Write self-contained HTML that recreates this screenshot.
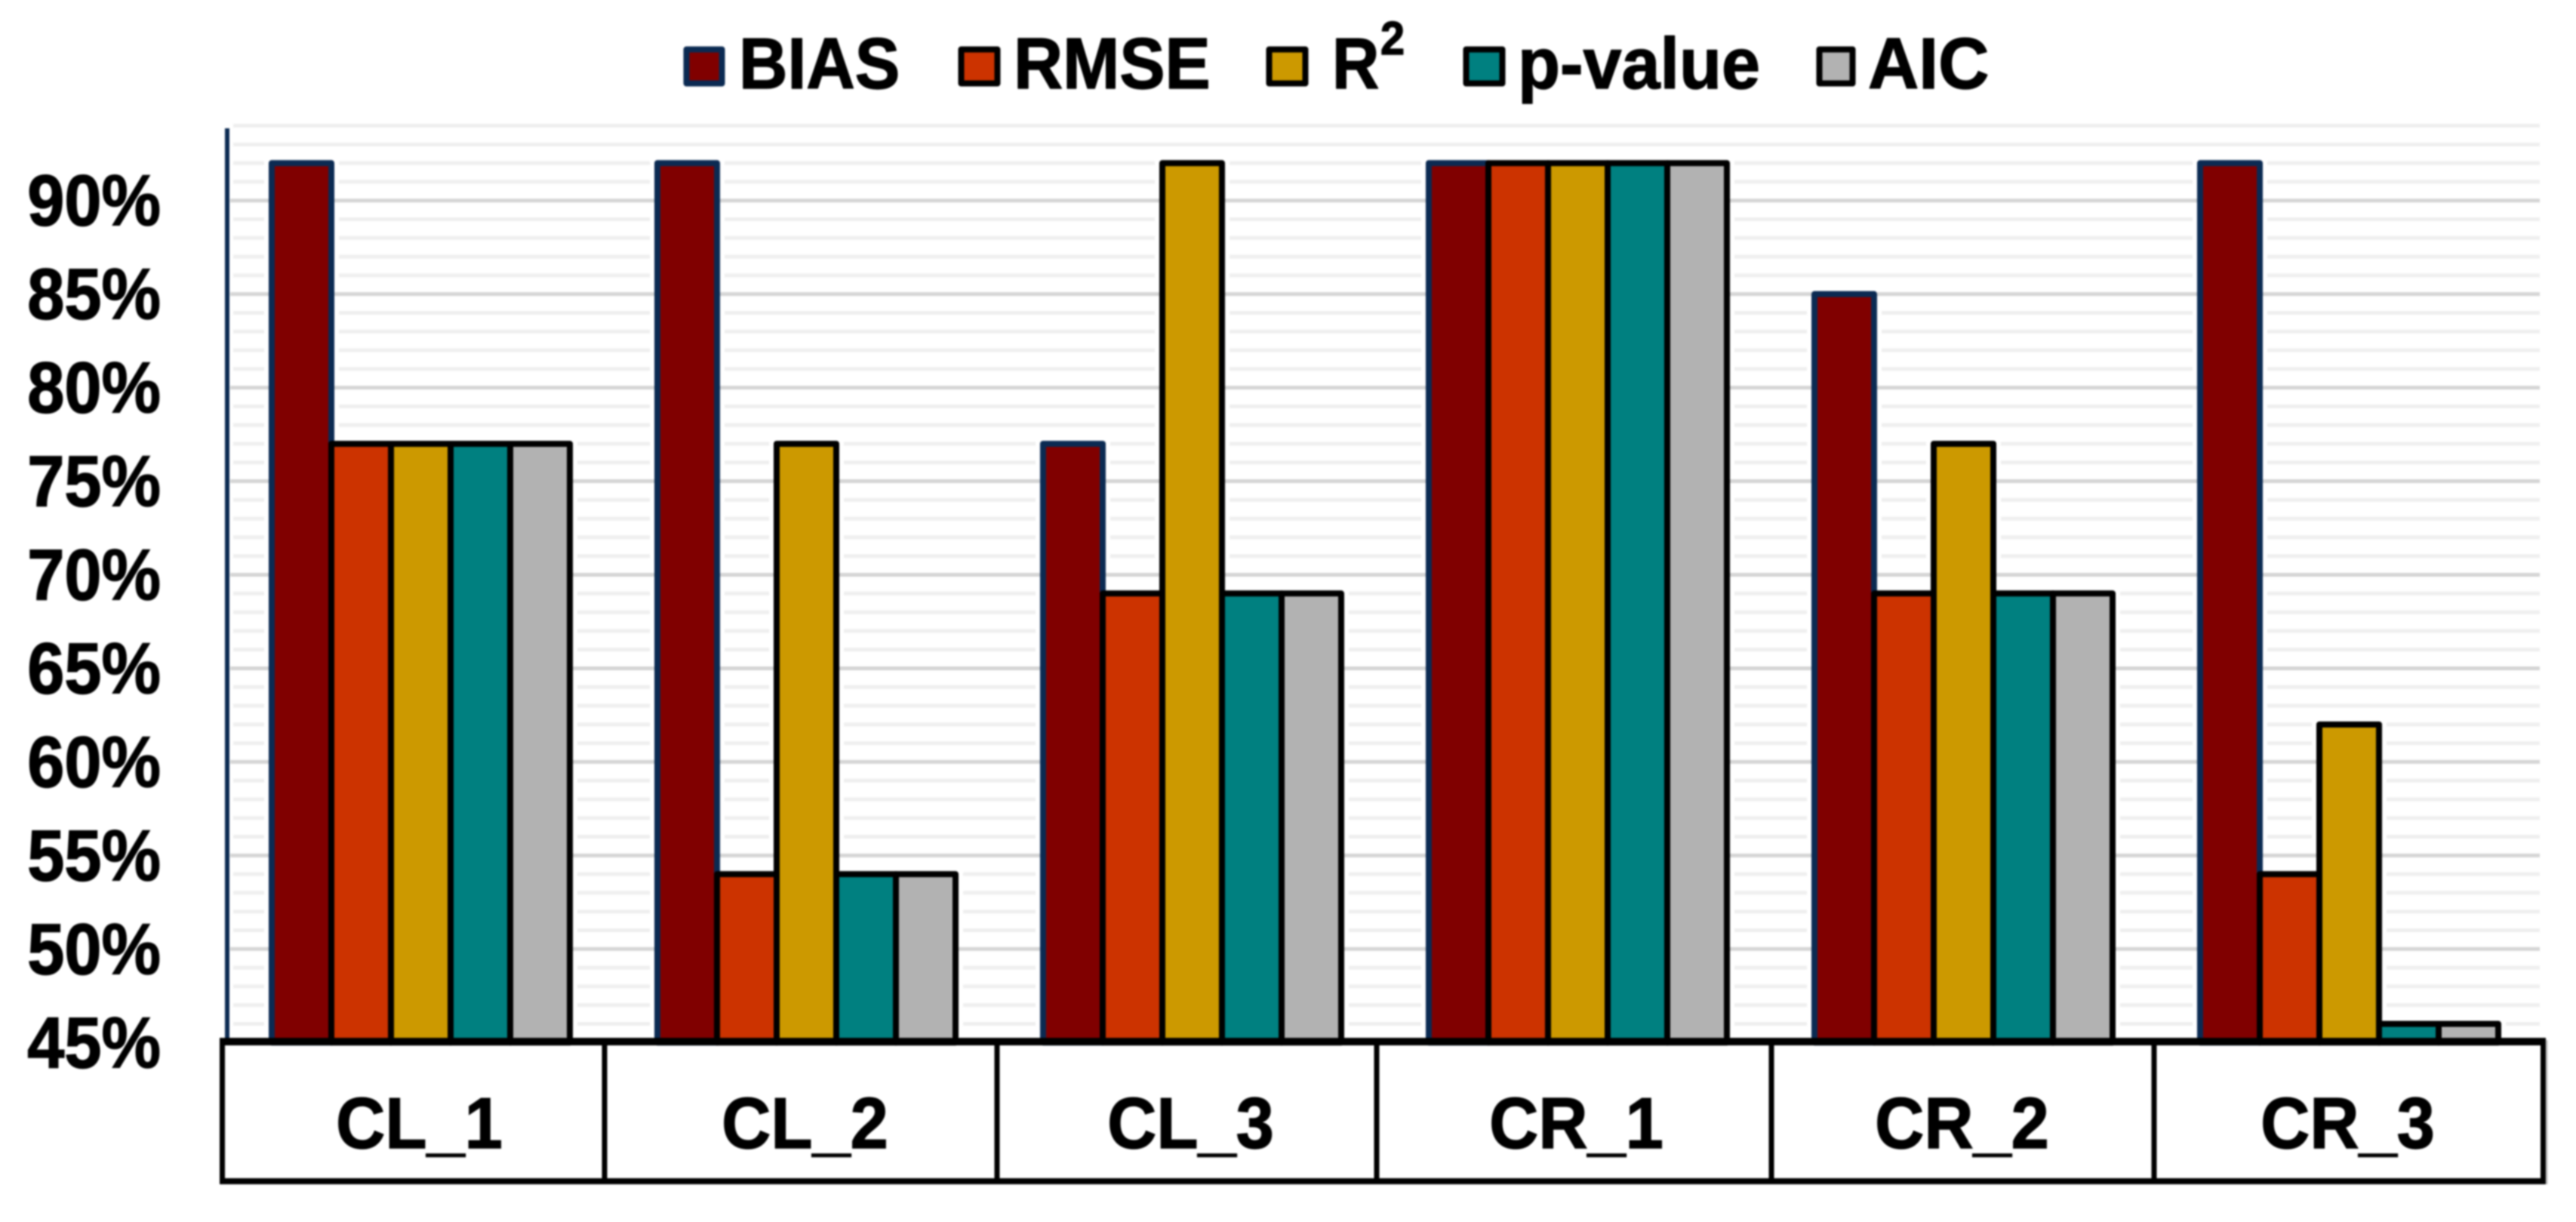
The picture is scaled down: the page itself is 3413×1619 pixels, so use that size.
<!DOCTYPE html>
<html lang="en">
<head>
<meta charset="utf-8">
<title>Model metrics by category</title>
<style>
html,body{margin:0;padding:0;background:#fff;width:3413px;height:1619px;overflow:hidden}
svg{display:block;filter:blur(1px)}
text{font-family:"Liberation Sans",Arial,sans-serif;font-weight:700;fill:#000;stroke:#000;stroke-width:1.5px}
</style>
</head>
<body>
<svg id="chart" xmlns="http://www.w3.org/2000/svg" width="3413" height="1619" viewBox="0 0 3413 1619">
  <rect x="0" y="0" width="3413" height="1619" fill="#fff"/>
  <g id="grid-minor"></g>
  <g id="halos"></g>
  <g id="grid-major"></g>
  <g id="bars"></g>
  <line x1="301" y1="170" x2="301" y2="1380" stroke="#0b2a52" stroke-width="6"/>
  <g id="ylabels"></g>

  <g fill="none" stroke="#000">
    <line x1="3374.5" y1="1378" x2="3374.5" y2="1569" stroke="#bdbdbd" stroke-width="2"/>
    <line x1="291" y1="1380" x2="3373" y2="1380" stroke-width="10"/>
    <line x1="294.5" y1="1375" x2="294.5" y2="1569" stroke-width="7"/>
    <line x1="3369.5" y1="1375" x2="3369.5" y2="1569" stroke-width="7"/>
    <line x1="291" y1="1565" x2="3373" y2="1565" stroke-width="8"/>
    <line x1="801" y1="1380" x2="801" y2="1565" stroke-width="7"/>
    <line x1="1321" y1="1380" x2="1321" y2="1565" stroke-width="7"/>
    <line x1="1824" y1="1380" x2="1824" y2="1565" stroke-width="7"/>
    <line x1="2347" y1="1380" x2="2347" y2="1565" stroke-width="7"/>
    <line x1="2854" y1="1380" x2="2854" y2="1565" stroke-width="7"/>
  </g>
  <g id="xlabels"></g>

  <g stroke-linejoin="round">
    <g>
      <rect x="909.5" y="65.5" width="47" height="45" fill="#800000" stroke="#0b2a52" stroke-width="8"/>
      <text font-size="96" transform="translate(979,117) scale(.93,1)">BIAS</text>
    </g>
    <g>
      <rect x="1273.5" y="65.5" width="48" height="45" fill="#cc3300" stroke="#000" stroke-width="8"/>
      <text font-size="96" transform="translate(1343,117) scale(.94,1)">RMSE</text>
    </g>
    <g>
      <rect x="1681.5" y="65.5" width="48" height="45" fill="#cc9900" stroke="#000" stroke-width="8"/>
      <text font-size="96" transform="translate(1765,117) scale(.9,1)">R</text>
      <text font-size="62" transform="translate(1829,72) scale(.93,1)">2</text>
    </g>
    <g>
      <rect x="1942.5" y="65.5" width="48" height="45" fill="#008080" stroke="#000" stroke-width="8"/>
      <text font-size="96" transform="translate(2011,117) scale(.955,1)">p-value</text>
    </g>
    <g>
      <rect x="2410.5" y="65.5" width="44" height="45" fill="#b2b2b2" stroke="#000" stroke-width="8"/>
      <text font-size="96" transform="translate(2475,117) scale(.97,1)">AIC</text>
    </g>
  </g>
</svg>
<script>
const categories = ["CL_1", "CL_2", "CL_3", "CR_1", "CR_2", "CR_3"];
const seriesNames = ["bias", "rmse", "r-squared", "p-value", "aic"];
const bias = [92, 92, 77, 92, 85, 92];
const rmse = [77, 54, 69, 92, 69, 54];
const rSquared = [77, 77, 92, 92, 77, 62];
const pValue = [77, 54, 69, 92, 69, 46];
const aic = [77, 54, 69, 92, 69, 46];
const yTicks = [90, 85, 80, 75, 70, 65, 60, 55, 50, 45];
const yMinorTicks = [94, 93, 92, 91, 89, 88, 87, 86, 84, 83, 82, 81, 79, 78, 77, 76, 74, 73, 72, 71, 69, 68, 67, 66, 64, 63, 62, 61, 59, 58, 57, 56, 54, 53, 52, 51, 49, 48, 47, 46];

const seriesValues = [bias, rmse, rSquared, pValue, aic];
const seriesFill = ["#800000", "#cc3300", "#cc9900", "#008080", "#b2b2b2"];
const seriesStroke = ["#0b2a52", "#000", "#000", "#000", "#000"];

const NS = "http://www.w3.org/2000/svg";
const plotLeft = 302, bandWidth = 511, groupPad = 58, barWidth = 79;
const yBase = 45;
const yScale = v => 265.7 + (90 - v) * 24.79;
const xBand = i => plotLeft + i * bandWidth;
const xBar = (c, s) => xBand(c) + groupPad + s * barWidth;

function make(parent, tag, attrs) {
  const el = document.createElementNS(NS, tag);
  for (const k in attrs) el.setAttribute(k, attrs[k]);
  parent.appendChild(el);
  return el;
}

const gMinor = document.getElementById("grid-minor");
yMinorTicks.forEach(t => {
  const el = make(gMinor, "line", {x1: 309, x2: 3365, y1: yScale(t), y2: yScale(t), stroke: "#efefef", "stroke-width": 5});
  
  
});

const gMajor = document.getElementById("grid-major");
const gLabels = document.getElementById("ylabels");
yTicks.forEach(t => {
  const line = make(gMajor, "line", {x1: 305, x2: 3365, y1: yScale(t), y2: yScale(t), stroke: "#d5d5d5", "stroke-width": 5});
  
  
  const lab = make(gLabels, "text", {"font-size": 96, "text-anchor": "end", transform: "translate(213," + (yScale(t) + 33) + ") scale(.92,1)"});
  lab.textContent = t + "%";
  
  
});

const gHalo = document.getElementById("halos");
const gBars = document.getElementById("bars");
categories.forEach((cat, c) => {
  seriesValues.forEach((vals, s) => {
    const top = yScale(vals[c]);
    const h = yScale(yBase) - top;
    const halo = make(gHalo, "rect", {x: xBar(c, s), y: top, width: barWidth, height: h, fill: "#fff", stroke: "#fff", "stroke-width": 20});
    
    
  });
  seriesValues.forEach((vals, s) => {
    const top = yScale(vals[c]);
    const h = yScale(yBase) - top;
    const bar = make(gBars, "rect", {x: xBar(c, s), y: top, width: barWidth, height: h, fill: seriesFill[s], stroke: seriesStroke[s], "stroke-width": 8, "stroke-linejoin": "round"});
    
    
  });
});

const gX = document.getElementById("xlabels");
categories.forEach((cat, c) => {
  const lab = make(gX, "text", {"font-size": 96, "text-anchor": "middle", transform: "translate(" + (xBand(c) + bandWidth / 2 - 2) + ",1521) scale(.94,1)"});
  lab.textContent = cat;
  
  
});
</script>
</body>
</html>
